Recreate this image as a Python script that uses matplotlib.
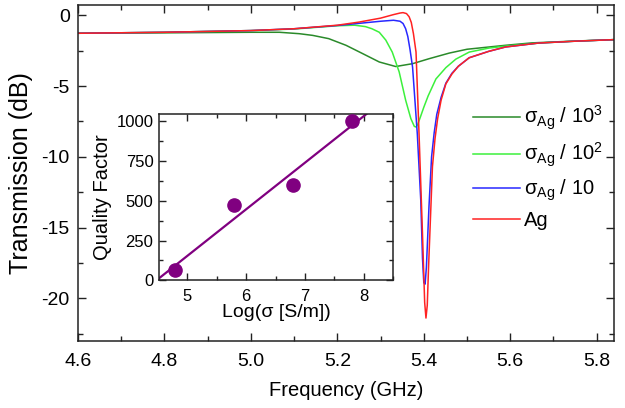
import matplotlib
matplotlib.use("Agg")
import matplotlib.pyplot as plt
import numpy as np
from matplotlib.ticker import MultipleLocator

plt.rcParams["font.family"] = ["Liberation Sans", "DejaVu Sans"]
plt.rcParams["mathtext.fontset"] = "custom"
plt.rcParams["mathtext.rm"] = "Liberation Sans"
plt.rcParams["mathtext.default"] = "regular"
plt.rcParams["axes.unicode_minus"] = False

# transmission spectra (GHz, dB)
freq_ag = [4.60, 4.80, 5.00, 5.10, 5.20, 5.25, 5.30, 5.33, 5.345, 5.352, 5.360,
           5.366, 5.371, 5.376, 5.382, 5.389, 5.397, 5.402, 5.405, 5.408, 5.411,
           5.420, 5.426, 5.432, 5.440, 5.451, 5.465, 5.48, 5.505, 5.55, 5.589,
           5.666, 5.75, 5.84]
db_ag = [-1.27, -1.20, -1.08, -0.95, -0.70, -0.48, -0.20, 0.05, 0.16, 0.19, 0.12,
         -0.10, -0.50, -1.30, -2.60, -8.40, -15.5, -20.3, -21.4, -20.5, -17.8,
         -10.7, -8.7, -7.3, -6.0, -4.85, -4.15, -3.6, -3.0, -2.55, -2.24,
         -1.96, -1.83, -1.72]

freq_10 = [4.60, 4.80, 5.00, 5.10, 5.20, 5.25, 5.30, 5.33, 5.345, 5.352, 5.358,
           5.363, 5.368, 5.374, 5.385, 5.393, 5.397, 5.400, 5.403, 5.406, 5.412,
           5.418, 5.424, 5.430, 5.440, 5.451, 5.465, 5.48, 5.505, 5.55, 5.589,
           5.666, 5.75, 5.84]
db_10 = [-1.27, -1.20, -1.08, -0.95, -0.72, -0.57, -0.42, -0.35, -0.42, -0.58, -0.95,
         -1.50, -2.40, -3.66, -8.40, -13.1, -17.2, -18.9, -19.0, -17.8, -13.5,
         -10.0, -8.3, -7.0, -5.8, -4.8, -4.1, -3.6, -3.0, -2.55, -2.24,
         -1.96, -1.83, -1.72]

freq_100 = [4.60, 4.80, 5.00, 5.10, 5.20, 5.24, 5.265, 5.28, 5.297, 5.312, 5.327,
            5.343, 5.358, 5.370, 5.378, 5.382, 5.386, 5.392, 5.400, 5.410, 5.428,
            5.451, 5.474, 5.505, 5.55, 5.589, 5.666, 5.75, 5.84]
db_100 = [-1.27, -1.20, -1.08, -0.97, -0.74, -0.70, -0.80, -0.95, -1.20, -1.75, -2.60,
          -4.00, -6.00, -7.30, -7.85, -7.90, -7.70, -7.20, -6.50, -5.70, -4.50,
          -3.70, -3.10, -2.60, -2.32, -2.18, -1.96, -1.83, -1.72]

freq_1000 = [4.60, 4.80, 5.00, 5.066, 5.112, 5.143, 5.18, 5.22, 5.258, 5.297,
             5.335, 5.374, 5.412, 5.459, 5.50, 5.589, 5.65, 5.75, 5.84]
db_1000 = [-1.27, -1.24, -1.20, -1.20, -1.30, -1.42, -1.65, -2.12, -2.70, -3.30,
           -3.62, -3.42, -3.07, -2.67, -2.40, -2.12, -1.95, -1.82, -1.72]

# inset: quality factor against log conductivity
log_sigma = [4.8, 5.8, 6.8, 7.8]
quality = [65, 473, 598, 1000]

curves = [
    (freq_1000, db_1000, "#2A8A2A", r"$\sigma_{Ag}$ / 10$^{3}$"),
    (freq_100, db_100, "#3CF03C", r"$\sigma_{Ag}$ / 10$^{2}$"),
    (freq_10, db_10, "#2828FF", r"$\sigma_{Ag}$ / 10"),
    (freq_ag, db_ag, "#FF2222", "Ag"),
]

fig = plt.figure(figsize=(6.25, 4.08), dpi=100)
ax = fig.add_axes([0.1248, 0.165, 0.8576, 0.8235])
for f, d, color, label in curves:
    ax.plot(f, d, color=color, linewidth=1.1, label=label)

ax.set_xlim(4.6, 5.84)
ax.set_ylim(-23, 0.75)
ax.xaxis.set_major_locator(MultipleLocator(0.2))
ax.xaxis.set_minor_locator(MultipleLocator(0.1))
ax.yaxis.set_major_locator(MultipleLocator(5))
ax.yaxis.set_minor_locator(MultipleLocator(2.5))
ax.xaxis.set_major_formatter(plt.FormatStrFormatter("%.1f"))
ax.tick_params(which="both", direction="in", top=True, right=True,
               width=1.0, labelsize=14, color="#222222")
ax.tick_params(which="major", length=6, pad=6)
ax.tick_params(axis="x", which="major", pad=9)
ax.tick_params(which="minor", length=3.5)
for spine in ax.spines.values():
    spine.set_linewidth(1.1)
    spine.set_color("#222222")
ax.set_xlabel("Frequency (GHz)", fontsize=14.5, labelpad=8)
ax.set_ylabel("Transmission (dB)", fontsize=18, labelpad=6)

ax.legend(loc="upper left", bbox_to_anchor=(0.7364, 0.705), frameon=False,
          fontsize=14.5, handlelength=2.35, handletextpad=0.2, labelspacing=0.42,
          borderpad=0, borderaxespad=0)

ins = fig.add_axes([0.2544, 0.313, 0.3749, 0.4076])
ins.plot(log_sigma, quality, "o", color="#800080", markersize=9.5, zorder=3)
slope, intercept = np.polyfit(log_sigma, quality, 1)
fit_x = np.array([4.52, 8.5])
ins.plot(fit_x, slope * fit_x + intercept, color="#800080", linewidth=1.6)
ins.set_xlim(4.52, 8.5)
ins.set_ylim(0, 1045)
ins.xaxis.set_major_locator(MultipleLocator(1))
ins.xaxis.set_minor_locator(MultipleLocator(0.5))
ins.yaxis.set_major_locator(MultipleLocator(250))
ins.yaxis.set_minor_locator(MultipleLocator(125))
ins.tick_params(which="both", direction="in", top=True, right=True,
                width=1.0, labelsize=12, color="#222222")
ins.tick_params(which="major", length=5, pad=4)
ins.tick_params(axis="x", which="major", pad=6)
ins.tick_params(which="minor", length=3)
for spine in ins.spines.values():
    spine.set_linewidth(1.1)
    spine.set_color("#222222")
ins.set_xlabel("Log(σ [S/m])", fontsize=14, labelpad=0)
ins.set_ylabel("Quality Factor", fontsize=14.5, labelpad=3)

fig.savefig("out.png", dpi=100)
